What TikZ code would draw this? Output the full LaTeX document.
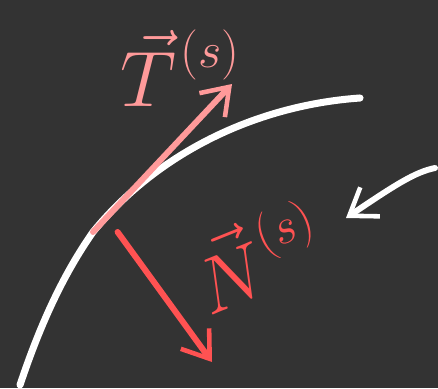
\documentclass[tikz,border=0pt]{standalone}
\usepackage{amsmath,amssymb}
\usepackage{tikz}
\usetikzlibrary{arrows.meta}

\definecolor{board}{HTML}{333333}
\definecolor{tpink}{HTML}{FF9A9A}
\definecolor{nred}{HTML}{FF5252}

\newcommand{\handvec}[2]{\scalebox{1.8}{$\vec{#1}$}\kern2pt\raisebox{22pt}{\scalebox{1.15}{$(#2)$}}}

\begin{document}
\begin{tikzpicture}[
    x=0.02cm, y=-0.02cm,
    chalk/.style={line width=4pt, white, line cap=round},
    tvec/.style={line width=3.4pt, tpink, line cap=round, -{Straight Barb[length=5mm, width=7mm, line width=2.6pt]}},
    nvec/.style={line width=3.4pt, nred, line cap=round, -{Straight Barb[length=5mm, width=7mm, line width=2.6pt]}},
    wvec/.style={chalk, line width=3.4pt, -{Straight Barb[length=5mm, width=7mm, line width=2.6pt]}},
    label/.style={inner sep=0pt, font=\fontsize{24.88}{24.88}\selectfont}
]

% Background
\fill[board] (0,0) rectangle (438,388);
\useasboundingbox (0,0) rectangle (438,388);

% Points
\coordinate (cstart) at (20,385);
\coordinate (P) at (93,232);
\coordinate (cend) at (360,98);
\coordinate (Ttip) at (232,84);
\coordinate (Ntip) at (212,362);
\coordinate (wstart) at (435,168);
\coordinate (wtip) at (346,218);

% Curve
\draw[chalk] (cstart) .. controls (45,310) and (70,265) .. (P)
    .. controls (160,150) and (260,105) .. (cend);

% Arrows
\draw[tvec] (P) -- (Ttip);
\draw[nvec] ([xshift=14]P) -- (Ntip);
\draw[wvec] (wstart) .. controls (415,172) and (395,185) .. (wtip);

% Labels
\node (tlabel) [label, text=tpink] at (180,68) {\handvec{T}{s}};
\node (nlabel) [label, text=nred, rotate=22] at (256,256) {\handvec{N}{s}};

\end{tikzpicture}
\end{document}
